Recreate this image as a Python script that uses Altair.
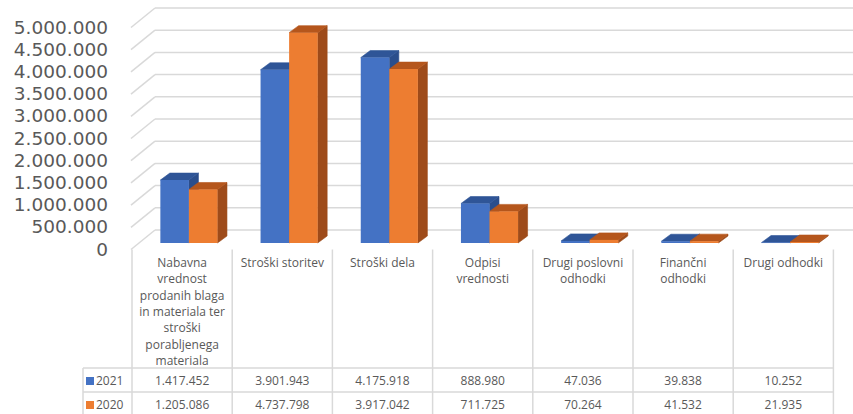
import altair as alt
import pandas as pd

# ---- data -------------------------------------------------------------
category_lines = [
    ["Nabavna", "vrednost", "prodanih blaga", "in materiala ter", "stroški",
     "porabljenega", "materiala"],
    ["Stroški storitev"],
    ["Stroški dela"],
    ["Odpisi", "vrednosti"],
    ["Drugi poslovni", "odhodki"],
    ["Finančni", "odhodki"],
    ["Drugi odhodki"],
]
series_names = ["2021", "2020"]
values_2021 = [1417452, 3901943, 4175918, 888980, 47036, 39838, 10252]
values_2020 = [1205086, 4737798, 3917042, 711725, 70264, 41532, 21935]
tick_values = [0, 500000, 1000000, 1500000, 2000000, 2500000,
               3000000, 3500000, 4000000, 4500000, 5000000]

# ---- layout -----------------------------------------------------------
W, H = 853, 414
SLOT_LEFT_PX, SLOT_PX = 132.0, 100.2        # table columns / category slots
BASE_PX, PX_PER_VALUE = 243.0, 44.4e-6      # bar floor line and vertical scale
BAR_START, BAR_W = 0.283, 0.285             # within a slot (slot units)
BAR_DX_PX, BAR_DY_PX = 9.5, 7.0             # bar depth
WALL_FRONT_X, WALL_FRONT_Y = 131.0, 249.5   # front corner of the wall floor
WALL_BACK_X, WALL_BACK_Y = 155.0, 230.0     # back corner of the wall floor

X_DOMAIN = [(0 - SLOT_LEFT_PX) / SLOT_PX, (W - SLOT_LEFT_PX) / SLOT_PX]
Y_DOMAIN = [-(H - BASE_PX) / PX_PER_VALUE, BASE_PX / PX_PER_VALUE]

xs = alt.Scale(domain=X_DOMAIN, nice=False, zero=False)
ys = alt.Scale(domain=Y_DOMAIN, nice=False, zero=False)
px = alt.Scale(domain=[0, H], range=[0, H])

DU = BAR_DX_PX / SLOT_PX
DV = BAR_DY_PX / PX_PER_VALUE

FRONT_OFF = -(WALL_FRONT_Y - BASE_PX) / PX_PER_VALUE
BACK_OFF = (BASE_PX - WALL_BACK_Y) / PX_PER_VALUE
WALL_XF = (WALL_FRONT_X - SLOT_LEFT_PX) / SLOT_PX
WALL_XB = (WALL_BACK_X - SLOT_LEFT_PX) / SLOT_PX

TEXT_COLOR = "#595959"
GRID_COLOR = "#D9D9D9"
FONT = "Open Sans"
AXIS_FONT = "DejaVu Sans"

palette = {
    "2021": {"front": "#4472C4", "top": "#2F5597", "side": "#2B4E8C"},
    "2020": {"front": "#ED7D31", "top": "#B5561C", "side": "#9E4B1A"},
}

# ---- bar faces --------------------------------------------------------
fronts, tops, sides = [], [], []
for i in range(len(category_lines)):
    for k, (name, vals) in enumerate(zip(series_names, [values_2021, values_2020])):
        v = vals[i]
        xl = i + BAR_START + k * BAR_W
        xr = xl + BAR_W
        bid = f"{i}-{name}"
        c = palette[name]
        fronts.append({"id": bid, "x": xl, "x2": xr, "y": v, "y2": 0, "fill": c["front"]})
        tops += [
            {"id": bid, "y": v, "x": xl, "x2": xr, "fill": c["top"]},
            {"id": bid, "y": v + DV, "x": xl + DU, "x2": xr + DU, "fill": c["top"]},
        ]
        sides += [
            {"id": bid, "x": xr, "y": 0, "y2": v, "fill": c["side"]},
            {"id": bid, "x": xr + DU, "y": DV, "y2": v + DV, "fill": c["side"]},
        ]

fill = alt.Color("fill:N", scale=None)

side_layer = alt.Chart(pd.DataFrame(sides)).mark_area(
    orient="vertical", strokeWidth=0.6
).encode(
    x=alt.X("x:Q", scale=xs, axis=None),
    y=alt.Y("y:Q", scale=ys, axis=None),
    y2="y2:Q",
    detail="id:N",
    color=fill,
    stroke=alt.Stroke("fill:N", scale=None),
)

top_layer = alt.Chart(pd.DataFrame(tops)).mark_area(
    orient="horizontal", strokeWidth=0.6
).encode(
    y=alt.Y("y:Q", scale=ys, axis=None),
    x=alt.X("x:Q", scale=xs, axis=None),
    x2="x2:Q",
    detail="id:N",
    color=fill,
    stroke=alt.Stroke("fill:N", scale=None),
)

front_layer = alt.Chart(pd.DataFrame(fronts)).mark_rect().encode(
    x=alt.X("x:Q", scale=xs, axis=None),
    x2="x2:Q",
    y=alt.Y("y:Q", scale=ys, axis=None),
    y2="y2:Q",
    color=fill,
)

# ---- wall gridlines ---------------------------------------------------
grid_df = pd.DataFrame({
    "t": tick_values,
    "yf": [t + FRONT_OFF for t in tick_values],
    "yb": [t + BACK_OFF for t in tick_values],
    "xf": WALL_XF,
    "xb": WALL_XB,
    "xe": X_DOMAIN[1],
    "label": [f"{t:,}".replace(",", ".") for t in tick_values],
})

grid_diag = alt.Chart(grid_df).mark_rule(color=GRID_COLOR, strokeWidth=1.5).encode(
    x=alt.X("xf:Q", scale=xs, axis=None), x2="xb:Q",
    y=alt.Y("yf:Q", scale=ys, axis=None), y2="yb:Q",
)
grid_back = alt.Chart(grid_df).mark_rule(color=GRID_COLOR, strokeWidth=1.5).encode(
    x=alt.X("xb:Q", scale=xs, axis=None), x2="xe:Q",
    y=alt.Y("yb:Q", scale=ys, axis=None), y2="yb:Q",
)
y_labels = alt.Chart(grid_df).mark_text(
    align="right", baseline="middle", font=AXIS_FONT, fontSize=18.5, color=TEXT_COLOR
).encode(
    x=alt.value(108),
    y=alt.Y("yf:Q", scale=ys, axis=None),
    text="label:N",
)

# ---- data table -------------------------------------------------------
n = len(category_lines)
col_df = pd.DataFrame({"x": list(range(n + 1))})
table_cols = alt.Chart(col_df).mark_rule(color=GRID_COLOR, strokeWidth=1.5).encode(
    x=alt.X("x:Q", scale=xs, axis=None),
    y=alt.value(WALL_FRONT_Y), y2=alt.value(H),
)
row_df = pd.DataFrame({"y": [368, 392]})
table_rows = alt.Chart(row_df).mark_rule(color=GRID_COLOR, strokeWidth=1.5).encode(
    x=alt.value(83), x2=alt.value(SLOT_LEFT_PX + n * SLOT_PX),
    y=alt.Y("y:Q", scale=px, axis=None),
)
table_left = alt.Chart(pd.DataFrame({"a": [0]})).mark_rule(
    color=GRID_COLOR, strokeWidth=1.5
).encode(x=alt.value(83), y=alt.value(368), y2=alt.value(H))

cat_df = pd.DataFrame({
    "x": [i + 0.5 for i in range(n)],
    "label": ["\n".join(lines) for lines in category_lines],
})
cat_text = alt.Chart(cat_df).mark_text(
    align="center", baseline="line-top", lineBreak="\n", lineHeight=16.3,
    font=FONT, fontSize=12, color=TEXT_COLOR,
).encode(
    x=alt.X("x:Q", scale=xs, axis=None),
    y=alt.value(255),
    text="label:N",
)

val_rows = []
for name, vals, ypx in [("2021", values_2021, 380.5), ("2020", values_2020, 404.5)]:
    for i, v in enumerate(vals):
        val_rows.append({"x": i + 0.5, "ypx": ypx,
                         "label": f"{v:,}".replace(",", ".")})
val_text = alt.Chart(pd.DataFrame(val_rows)).mark_text(
    align="center", baseline="middle", font=FONT, fontSize=12, color=TEXT_COLOR,
).encode(
    x=alt.X("x:Q", scale=xs, axis=None),
    y=alt.Y("ypx:Q", scale=px, axis=None),
    text="label:N",
)

key_df = pd.DataFrame({
    "name": series_names,
    "ypx": [381, 405],
    "fill": [palette[s]["front"] for s in series_names],
})
key_marks = alt.Chart(key_df).mark_square(size=64, opacity=1).encode(
    x=alt.value(90),
    y=alt.Y("ypx:Q", scale=px, axis=None),
    color=fill,
)
key_text = alt.Chart(key_df).mark_text(
    align="left", baseline="middle", font=FONT, fontSize=12, color=TEXT_COLOR,
).encode(
    x=alt.value(96),
    y=alt.Y("ypx:Q", scale=px, axis=None),
    text="name:N",
)

chart = alt.layer(
    grid_diag, grid_back, y_labels,
    side_layer, top_layer, front_layer,
    table_cols, table_rows, table_left,
    cat_text, val_text, key_marks, key_text,
).resolve_scale(y="independent").properties(
    width=W, height=H, padding=0, autosize=alt.AutoSizeParams(type="none"),
    background="white",
).configure_view(stroke=None)

chart.save("out.html", embed_options={"renderer": "svg", "actions": False})
